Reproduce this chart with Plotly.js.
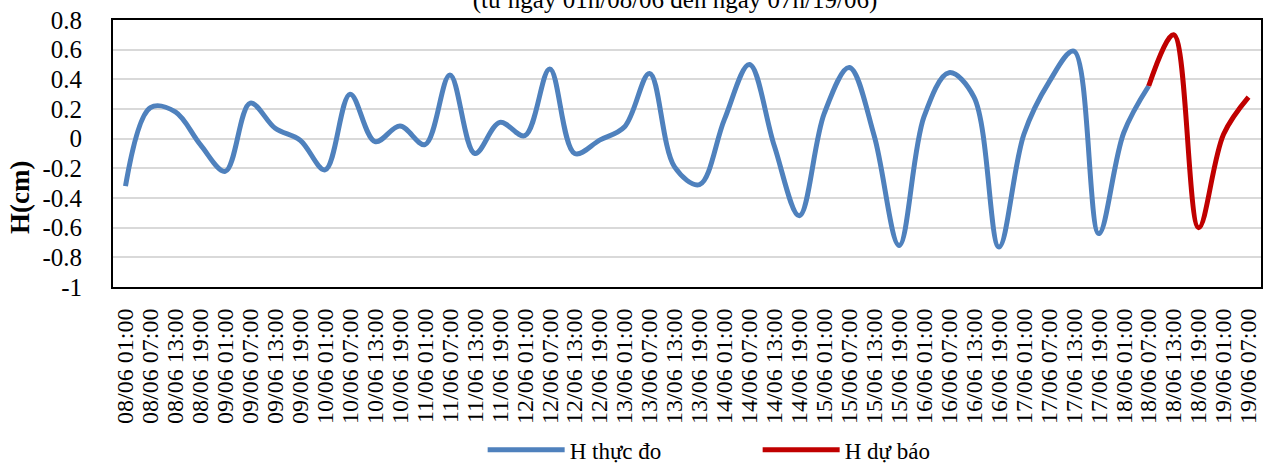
<!DOCTYPE html>
<html>
<head>
<meta charset="utf-8">
<script src="https://cdn.plot.ly/plotly-3.0.1.min.js"></script>
<style>html,body{margin:0;padding:0;background:#fff;}#chart{width:1272px;height:466px;}</style>
</head>
<body>
<div id="chart"></div>
<script>
// Category labels (every 6 hours)
const categories = [
  "08/06 01:00","08/06 07:00","08/06 13:00","08/06 19:00",
  "09/06 01:00","09/06 07:00","09/06 13:00","09/06 19:00",
  "10/06 01:00","10/06 07:00","10/06 13:00","10/06 19:00",
  "11/06 01:00","11/06 07:00","11/06 13:00","11/06 19:00",
  "12/06 01:00","12/06 07:00","12/06 13:00","12/06 19:00",
  "13/06 01:00","13/06 07:00","13/06 13:00","13/06 19:00",
  "14/06 01:00","14/06 07:00","14/06 13:00","14/06 19:00",
  "15/06 01:00","15/06 07:00","15/06 13:00","15/06 19:00",
  "16/06 01:00","16/06 07:00","16/06 13:00","16/06 19:00",
  "17/06 01:00","17/06 07:00","17/06 13:00","17/06 19:00",
  "18/06 01:00","18/06 07:00","18/06 13:00","18/06 19:00",
  "19/06 01:00","19/06 07:00"
];
// H thực đo (measured)
const hMeasured = [
  -0.32, 0.21, 0.18, -0.04,
  -0.22, 0.24, 0.07, -0.01,
  -0.21, 0.30, -0.02, 0.085,
  -0.04, 0.43, -0.10, 0.11,
  0.02, 0.47, -0.10, -0.01,
  0.08, 0.44, -0.19, -0.31,
  0.13, 0.50, -0.05, -0.52,
  0.17, 0.48, 0.02, -0.72,
  0.15, 0.445, 0.28, -0.73,
  0.03, 0.38, 0.59, -0.64,
  0.04, 0.355, null, null,
  null, null
];
// H dự báo (forecast)
const hForecast = [
  null, null, null, null,
  null, null, null, null,
  null, null, null, null,
  null, null, null, null,
  null, null, null, null,
  null, null, null, null,
  null, null, null, null,
  null, null, null, null,
  null, null, null, null,
  null, null, null, null,
  null, 0.355, 0.70, -0.60,
  0.03, 0.28
];
const yTickVals = [0.8, 0.6, 0.4, 0.2, 0, -0.2, -0.4, -0.6, -0.8, -1];
const yTickText = ["0.8", "0.6", "0.4", "0.2", "0", "-0.2", "-0.4", "-0.6", "-0.8", "-1"];

const serif = "Liberation Serif";

const traces = [
  {
    x: categories, y: hMeasured, name: "H thực đo", type: "scatter", mode: "lines",
    line: {color: "#4F81BD", width: 5, shape: "spline", smoothing: 1},
    connectgaps: false
  },
  {
    x: categories, y: hForecast, name: "H dự báo", type: "scatter", mode: "lines",
    line: {color: "#C00000", width: 5, shape: "spline", smoothing: 1},
    connectgaps: false
  }
];

const layout = {
  width: 1272, height: 466,
  margin: {l: 113, r: 11, t: 20, b: 179, pad: 0, autoexpand: false},
  paper_bgcolor: "#ffffff", plot_bgcolor: "#ffffff",
  font: {family: serif, color: "#000000", size: 22},
  title: {
    text: "(từ ngày 01h/08/06 đến ngày 07h/19/06)",
    font: {family: serif, size: 25, color: "#000000"},
    x: 675 / 1272, xanchor: "center",
    yref: "container", y: 1 - 8 / 466, yanchor: "bottom"
  },
  showlegend: true,
  legend: {
    orientation: "h", x: 0.322, xanchor: "left", y: -0.61, yanchor: "middle",
    font: {family: serif, size: 23, color: "#000000"},
    entrywidth: 183, entrywidthmode: "pixels", itemwidth: 77,
    bgcolor: "rgba(0,0,0,0)"
  },
  xaxis: {
    type: "category", tickangle: -90,
    tickfont: {family: serif, size: 24, color: "#000000"},
    tickmode: "array", tickvals: categories, ticktext: categories,
    showgrid: false, zeroline: false,
    showline: true, mirror: true, linecolor: "#000000", linewidth: 2,
    ticks: "", ticklabelstandoff: 10, automargin: false,
    range: [-0.5, categories.length - 0.5]
  },
  yaxis: {
    range: [-1, 0.8], tickmode: "array", tickvals: yTickVals, ticktext: yTickText,
    tickfont: {family: serif, size: 25, color: "#000000"},
    showgrid: true, gridcolor: "#d9d9d9", gridwidth: 2,
    zeroline: false, showline: true, mirror: true, linecolor: "#000000", linewidth: 2,
    ticks: "", ticklabelstandoff: 24, automargin: false
  },
  annotations: [
    {
      text: "<b>H(cm)</b>", textangle: -90, showarrow: false,
      xref: "paper", yref: "paper",
      x: (20 - 113) / 1148, xanchor: "center",
      y: (287 - 198) / 267, yanchor: "middle",
      font: {family: serif, size: 27, color: "#000000"}
    }
  ]
};

Plotly.newPlot("chart", traces, layout, {displayModeBar: false, staticPlot: true});
</script>
</body>
</html>
